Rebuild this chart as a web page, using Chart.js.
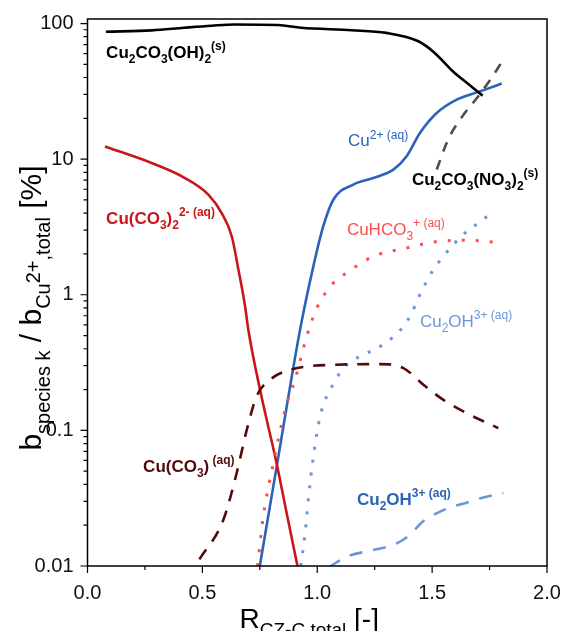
<!DOCTYPE html>
<html>
<head>
<meta charset="utf-8">
<style>
  html, body { margin: 0; padding: 0; background: #fff; }
  #wrap { width: 565px; height: 631px; }
</style>
<script src="https://cdn.jsdelivr.net/npm/chart.js@4.4.1/dist/chart.umd.min.js"></script>
</head>
<body>
<div id="wrap"><canvas id="chart" width="565" height="631"></canvas></div>
<script>
// data, x = R_CZ-C,total, y = percent
const cuOHx = [0.08, 0.28, 0.42, 0.54, 0.64, 0.83, 0.93, 1.15, 1.30, 1.44, 1.51, 1.59, 1.66, 1.72];
const cuOHy = [87, 89, 93, 96.3, 98.4, 97.5, 93, 89.3, 85.3, 74, 61, 44.5, 35.5, 29.4];

const cu2x = [0.75, 0.83, 0.925, 0.983, 1.026, 1.07, 1.157, 1.244, 1.331, 1.389, 1.447, 1.52, 1.607, 1.708, 1.803];
const cu2y = [0.0100, 0.063, 0.55, 1.62, 3.19, 5.02, 6.49, 7.26, 8.37, 10.5, 15.6, 21.9, 27.5, 31.6, 36.1];

const cuCO32x = [0.076, 0.279, 0.424, 0.526, 0.584, 0.628, 0.657, 0.686, 0.70, 0.751, 0.823, 0.867, 0.915];
const cuCO32y = [12.4, 9.37, 7.26, 5.47, 4.0, 2.69, 1.53, 0.82, 0.552, 0.199, 0.0573, 0.0245, 0.0098];

const cuCO3x = [0.487, 0.591, 0.649, 0.693, 0.736, 0.794, 0.881, 1.055, 1.273, 1.375, 1.462, 1.549, 1.65, 1.788];
const cuCO3y = [0.0112, 0.0218, 0.0483, 0.1004, 0.178, 0.236, 0.279, 0.304, 0.308, 0.288, 0.217, 0.168, 0.134, 0.104];

const cuHCO3x = [0.74, 0.765, 0.809, 0.864, 0.903, 0.954, 0.998, 1.07, 1.128, 1.244, 1.389, 1.52, 1.65, 1.795];
const cuHCO3y = [0.0100, 0.0231, 0.0573, 0.15, 0.236, 0.492, 0.798, 1.22, 1.45, 1.92, 2.21, 2.47, 2.52, 2.43];

const cu2OHax = [0.928, 0.947, 0.961, 0.983, 1.012, 1.07, 1.128, 1.2, 1.273, 1.375, 1.411, 1.44, 1.469, 1.505, 1.549, 1.592, 1.643, 1.701, 1.759];
const cu2OHay = [0.0100, 0.0174, 0.0307, 0.064, 0.126, 0.22, 0.304, 0.361, 0.415, 0.583, 0.733, 0.946, 1.19, 1.53, 1.92, 2.34, 2.85, 3.38, 4.01];

const cu2OHbx = [1.05, 1.128, 1.244, 1.30, 1.35, 1.40, 1.46, 1.535, 1.59, 1.65, 1.71, 1.81];
const cu2OHby = [0.0098, 0.0117, 0.0131, 0.0138, 0.0148, 0.0168, 0.0213, 0.0252, 0.0274, 0.0293, 0.0316, 0.0345];

const cuNO3x = [1.52, 1.57, 1.63, 1.70, 1.76, 1.80];
const cuNO3y = [8.4, 14, 20.5, 29, 40, 51];

const yMajor = [0.01, 0.1, 1, 10, 100];
const xMajor = [0, 0.5, 1.0, 1.5, 2.0];
const xMinor = [0.25, 0.75, 1.25, 1.75];

// label texts: [text, kind] n = normal, b = subscript, p = superscript, q = superscript on a subscript
const speciesLabels = [
    { x: 0.081, y: 56.1, color: '#000000', bold: true,
      segs: [['Cu', 'n'], ['2', 'b'], ['CO', 'n'], ['3', 'b'], ['(OH)', 'n'], ['2', 'b'], ['(s)', 'p']] },
    { x: 0.081, y: 3.34, color: '#c8161d', bold: true,
      segs: [['Cu(CO', 'n'], ['3', 'b'], [')', 'n'], ['2', 'b'], ['2- (aq)', 'p']] },
    { x: 1.134, y: 12.4, color: '#2b63b9', bold: false,
      segs: [['Cu', 'n'], ['2+ (aq)', 'p']] },
    { x: 1.412, y: 6.49, color: '#000000', bold: true,
      segs: [['Cu', 'n'], ['2', 'b'], ['CO', 'n'], ['3', 'b'], ['(NO', 'n'], ['3', 'b'], [')', 'n'], ['2', 'b'], ['(s)', 'p']] },
    { x: 1.129, y: 2.77, color: '#ff4d4d', bold: false,
      segs: [['CuHCO', 'n'], ['3', 'b'], ['+ (aq)', 'p']] },
    { x: 1.447, y: 0.581, color: '#6b96d8', bold: false,
      segs: [['Cu', 'n'], ['2', 'b'], ['OH', 'n'], ['3+ (aq)', 'p']] },
    { x: 0.242, y: 0.0494, color: '#550a0a', bold: true,
      segs: [['Cu(CO', 'n'], ['3', 'b'], [')', 'n'], [' (aq)', 'p']] },
    { x: 1.173, y: 0.0282, color: '#2b63b9', bold: true,
      segs: [['Cu', 'n'], ['2', 'b'], ['OH', 'n'], ['3+ (aq)', 'p']] }
];

const FONT = '"Liberation Sans", Arial, Helvetica, sans-serif';

function pts(xs, ys) {
    return xs.map((x, i) => ({ x: x, y: ys[i] }));
}

function line(data, color, width, dash, cap) {
    return {
        data: data,
        borderColor: color,
        borderWidth: width,
        borderDash: dash || [],
        borderCapStyle: cap || 'butt',
        pointRadius: 0,
        fill: false,
        cubicInterpolationMode: 'monotone'
    };
}

function segOffset(k, size, small) {
    if (k === 'b') return size * 0.3;
    if (k === 'p') return -size * 0.45;
    if (k === 'q') return size * 0.3 - small * 0.5;
    return 0;
}

// draws text made of normal / sub / sup parts, returns width
function drawRich(ctx, segs, x, y, size, bold, color) {
    const small = Math.round(size * 0.68);
    const w = bold ? 'bold ' : '';
    let cx = x;
    ctx.fillStyle = color;
    ctx.textBaseline = 'alphabetic';
    ctx.textAlign = 'left';
    segs.forEach(([t, k]) => {
        ctx.font = w + (k === 'n' ? size : small) + 'px ' + FONT;
        ctx.fillText(t, cx, y + segOffset(k, size, small));
        cx += ctx.measureText(t).width;
    });
    return cx - x;
}

function richWidth(ctx, segs, size, bold) {
    const small = Math.round(size * 0.68);
    const w = bold ? 'bold ' : '';
    let total = 0;
    segs.forEach(([t, k]) => {
        ctx.font = w + (k === 'n' ? size : small) + 'px ' + FONT;
        total += ctx.measureText(t).width;
    });
    return total;
}

const decor = {
    id: 'decor',
    afterDatasetsDraw(chart) {
        const ctx = chart.ctx;
        const a = chart.chartArea;
        const xs = chart.scales.x;
        const ys = chart.scales.y;
        ctx.save();

        // frame
        ctx.strokeStyle = '#000';
        ctx.lineWidth = 1.5;
        ctx.strokeRect(a.left, a.top, a.right - a.left, a.bottom - a.top);

        // tick marks, pointing out
        ctx.lineWidth = 1.2;
        ctx.beginPath();
        xMajor.forEach(v => {
            const px = xs.getPixelForValue(v);
            ctx.moveTo(px, a.bottom);
            ctx.lineTo(px, a.bottom + 7);
        });
        xMinor.forEach(v => {
            const px = xs.getPixelForValue(v);
            ctx.moveTo(px, a.bottom);
            ctx.lineTo(px, a.bottom + 4);
        });
        yMajor.forEach(v => {
            const py = ys.getPixelForValue(v);
            ctx.moveTo(a.left, py);
            ctx.lineTo(a.left - 7, py);
        });
        yMajor.slice(0, 4).forEach(d => {
            for (let k = 2; k <= 9; k++) {
                const py = ys.getPixelForValue(d * k);
                ctx.moveTo(a.left, py);
                ctx.lineTo(a.left - 4, py);
            }
        });
        ctx.stroke();

        // species labels
        speciesLabels.forEach(l => {
            drawRich(ctx, l.segs, xs.getPixelForValue(l.x), ys.getPixelForValue(l.y), 17, l.bold, l.color);
        });

        // x axis title
        const xt = [['R', 'n'], ['CZ-C,total', 'b'], [' [-]', 'n']];
        const xw = richWidth(ctx, xt, 28, false);
        drawRich(ctx, xt, (a.left + a.right) / 2 - xw / 2 - 8, 628, 28, false, '#000');

        // y axis title, rotated
        const yt = [['b', 'n'], ['species k', 'b'], [' / b', 'n'], ['Cu', 'b'], ['2+', 'q'], [',total', 'b'], [' [%]', 'n']];
        const yw = richWidth(ctx, yt, 30, false);
        ctx.translate(41, 308);
        ctx.rotate(-Math.PI / 2);
        drawRich(ctx, yt, -yw / 2, 0, 30, false, '#000');
        ctx.restore();
    }
};

new Chart(document.getElementById('chart'), {
    type: 'line',
    data: {
        datasets: [
            line(pts(cuOHx, cuOHy), '#000000', 2.6),
            line(pts(cuNO3x, cuNO3y), '#4d4d4d', 2.6, [10, 9]),
            line(pts(cuCO3x, cuCO3y), '#550a0a', 2.6, [12, 10]),
            line(pts(cuHCO3x, cuHCO3y), '#ff4d4d', 3, [3, 11]),
            line(pts(cu2OHax, cu2OHay), '#6b96d8', 3, [3, 10]),
            line(pts(cu2OHbx, cu2OHby), '#6b96d8', 2.6, [13, 11]),
            line(pts(cuCO32x, cuCO32y), '#c8161d', 2.6),
            line(pts(cu2x, cu2y), '#2b63b9', 2.6)
        ]
    },
    options: {
        responsive: false,
        animation: false,
        events: [],
        layout: { padding: { top: 19, right: 18, left: 0, bottom: 0 } },
        plugins: { legend: { display: false }, tooltip: { enabled: false } },
        scales: {
            x: {
                type: 'linear',
                min: 0,
                max: 2.0,
                grid: { display: false },
                border: { display: false },
                afterBuildTicks: s => { s.ticks = xMajor.map(v => ({ value: v })); },
                afterFit: s => {
                    s.height = 65;
                    s.paddingLeft = 0;
                    s.paddingRight = 0;
                },
                ticks: {
                    padding: 7,
                    maxRotation: 0,
                    color: '#111',
                    font: { family: FONT, size: 20 },
                    callback: v => Number(v).toFixed(1)
                }
            },
            y: {
                type: 'logarithmic',
                min: 0.01,
                max: 108,
                grid: { display: false },
                border: { display: false },
                afterBuildTicks: s => { s.ticks = yMajor.map(v => ({ value: v })); },
                afterFit: s => {
                    s.width = 87.5;
                    s.paddingTop = 0;
                    s.paddingBottom = 0;
                },
                ticks: {
                    padding: 6,
                    color: '#111',
                    font: { family: FONT, size: 20 },
                    callback: v => String(v)
                }
            }
        }
    },
    plugins: [decor]
});
</script>
</body>
</html>
